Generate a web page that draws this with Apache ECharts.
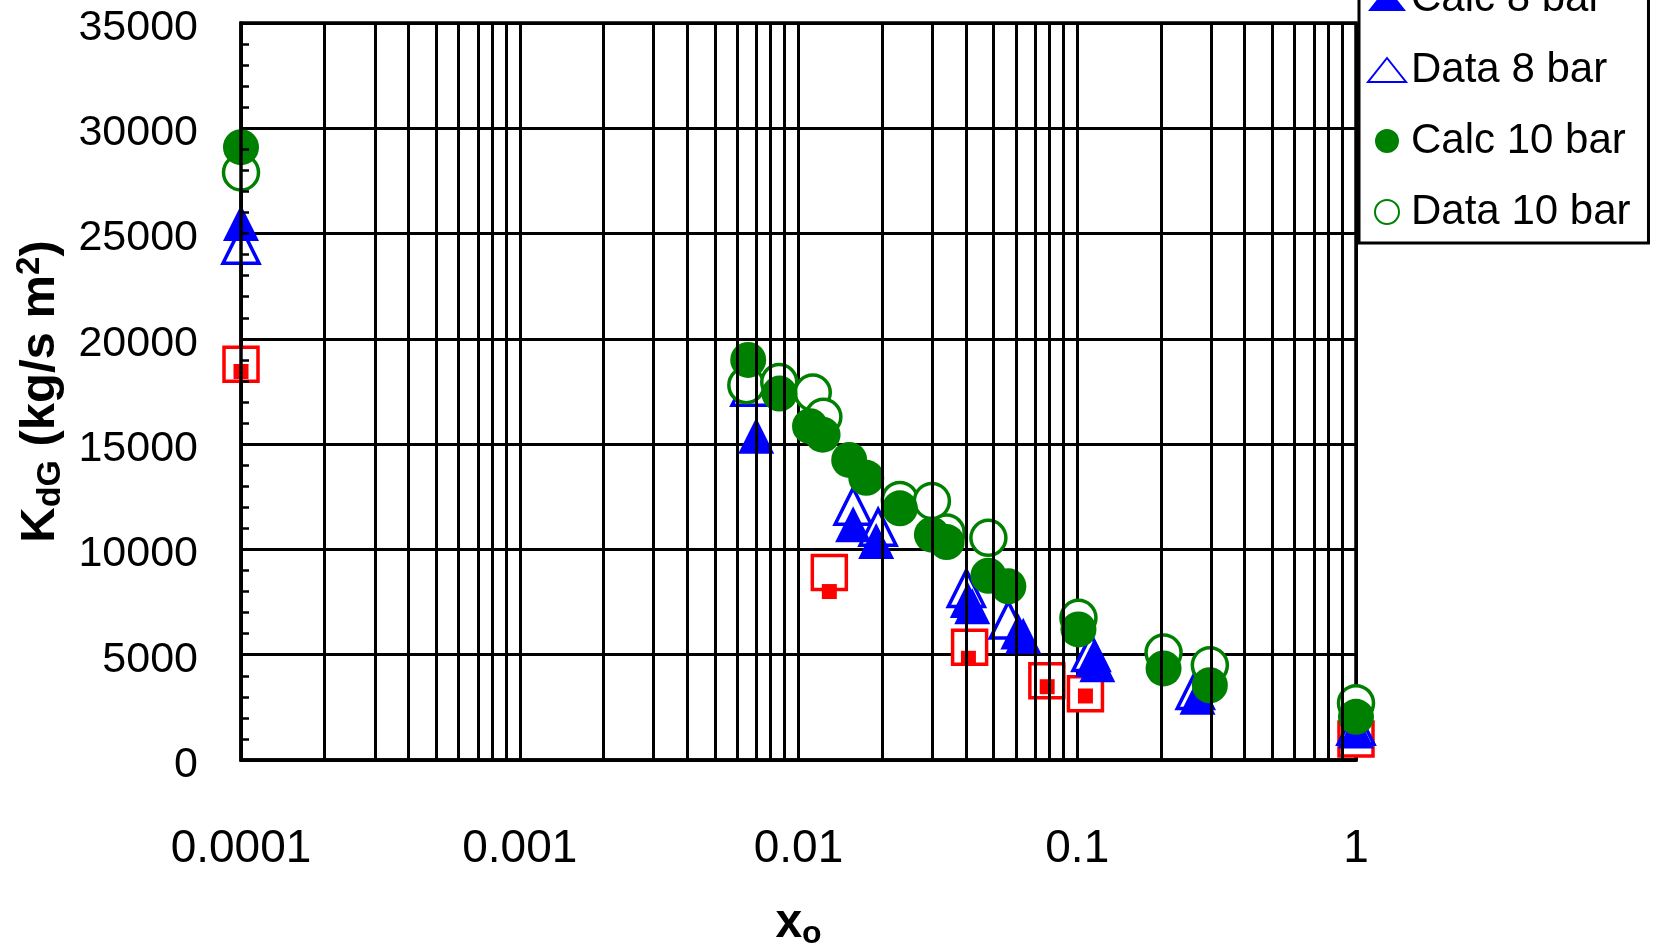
<!DOCTYPE html>
<html>
<head>
<meta charset="utf-8">
<script src="https://cdn.jsdelivr.net/npm/echarts@6/dist/echarts.min.js"></script>
<style>
html,body{margin:0;padding:0;background:#fff;}
#chart{width:1661px;height:950px;}
</style>
</head>
<body>
<div id="chart"></div>
<script>
// ---- data (x = x_o, y = K_dG) ----
const calc6 = [[0.0001,18450],[0.0129,8000],[0.0407,4830],[0.078,3480],[0.107,3040],[1.0,1300]];
const data6 = [[0.0001,18800],[0.0129,8900],[0.0411,5350],[0.0778,3760],[0.107,3150],[1.0,1000]];
const calc8 = [[0.0001,25500],[0.00705,15400],[0.0157,11200],[0.019,10400],[0.0405,7600],[0.042,7300],[0.0615,6100],[0.064,5900],[0.114,4800],[0.118,4550],[0.27,3000],[1.0,1400]];
const data8 = [[0.0001,24450],[0.0067,17700],[0.0157,12050],[0.0193,11050],[0.040,8150],[0.0566,6650],[0.112,5100],[0.265,3300],[1.0,1600]];
const calc10 = [[0.0001,29100],[0.0066,19000],[0.00855,17400],[0.011,15850],[0.0122,15450],[0.0152,14250],[0.0175,13400],[0.0231,11950],[0.0301,10700],[0.034,10350],[0.048,8750],[0.0566,8250],[0.101,6200],[0.204,4350],[0.299,3550],[1.0,2050]];
const data10 = [[0.0001,27900],[0.0065,17800],[0.00853,17950],[0.01125,17450],[0.01228,16300],[0.0231,12350],[0.0301,12300],[0.034,10800],[0.048,10550],[0.101,6750],[0.204,5100],[0.299,4500],[1.0,2700]];

const seriesNames = ['Calc 6 bar','Data 6 bar','Calc 8 bar','Data 8 bar','Calc 10 bar','Data 10 bar'];
const xTickLabels = ['0.0001','0.001','0.01','0.1','1'];
const decadeExponents = [-4,-3,-2,-1];
const minorFactors = [2,3,4,5,6,7,8,9];

const FONT = 'Liberation Sans, Arial, sans-serif';
// minor vertical gridlines (2..9 of each decade), placed on a hidden log10-space axis
const minorGrid = [];
decadeExponents.forEach(e => minorFactors.forEach(f => minorGrid.push({xAxis: e + Math.log10(f)})));

const chart = echarts.init(document.getElementById('chart'), null, {renderer:'canvas'});

const openStyle = (c, w) => ({color:'#ffffff', borderColor:c, borderWidth:w, opacity:1});
const fillStyle = c => ({color:c, opacity:1});

const option = {
  backgroundColor:'#ffffff',
  animation:false,
  grid:{left:241, right:305, top:23, bottom:190, show:true, borderColor:'#000', borderWidth:3.5,
        backgroundColor:'transparent', containLabel:false, outerBoundsMode:'none'},
  legend:{
    orient:'vertical', left:1359, top:-175,
    padding:[7,18,6,8],
    itemWidth:38, itemHeight:24, itemGap:21,
    borderColor:'#000', borderWidth:3, backgroundColor:'#fff',
    textStyle:{fontFamily:FONT, fontSize:42, color:'#000', lineHeight:50},
    data:seriesNames
  },
  xAxis:[{
    type:'log', logBase:10, min:0.0001, max:1,
    axisLine:{show:true, lineStyle:{color:'#000', width:3.5}},
    axisTick:{show:false},
    splitLine:{show:true, lineStyle:{color:'#000', width:3}},
    minorSplitLine:{show:false},
    axisLabel:{fontFamily:FONT, fontSize:46, color:'#000', margin:66,
      formatter:v => xTickLabels[Math.round(Math.log10(v)) + 4]},
    name:'{a|x}{s|o}', nameLocation:'middle', nameGap:138,
    nameTextStyle:{rich:{
      a:{fontFamily:FONT, fontSize:48, fontWeight:'bold', color:'#000', lineHeight:52},
      s:{fontFamily:FONT, fontSize:32, fontWeight:'bold', color:'#000', lineHeight:30, verticalAlign:'bottom'}
    }}
  },{
    type:'value', min:-4, max:0, show:false
  }],
  yAxis:[{
    type:'value', min:0, max:35000, interval:5000,
    axisLine:{show:false},
    axisTick:{show:false},
    splitLine:{show:true, lineStyle:{color:'#000', width:3}},
    axisLabel:{margin:43, formatter:v => '{v|' + v + '}',
      rich:{v:{fontFamily:FONT, fontSize:43, color:'#000', padding:[10,0,0,0]}}},
    name:'{a|K}{s|dG}{a| (kg/s m}{p|2}{a|)}', nameLocation:'middle', nameGap:173, nameRotate:90,
    nameTextStyle:{rich:{
      a:{fontFamily:FONT, fontSize:49, fontWeight:'bold', color:'#000', lineHeight:54},
      s:{fontFamily:FONT, fontSize:34, fontWeight:'bold', color:'#000', lineHeight:30, verticalAlign:'bottom'},
      p:{fontFamily:FONT, fontSize:33, fontWeight:'bold', color:'#000', lineHeight:32, verticalAlign:'top'}
    }}
  },{
    type:'value', min:0, max:35000, interval:5000, position:'left', z:10,
    axisLine:{show:true, lineStyle:{color:'#000', width:3.5}},
    axisTick:{show:true, inside:true, length:8, lineStyle:{color:'#000', width:2.5}},
    minorTick:{show:true, splitNumber:5, length:8, lineStyle:{color:'#000', width:2.5}},
    splitLine:{show:false},
    axisLabel:{show:false}
  }],
  series:[
    {type:'line', xAxisIndex:1, yAxisIndex:0, data:[], silent:true,
     markLine:{silent:true, symbol:'none', label:{show:false}, animation:false,
       lineStyle:{color:'#000', width:3, type:'solid', opacity:1}, emphasis:{disabled:true}, data:minorGrid}},
    {name:'Data 6 bar', type:'scatter', data:data6, symbol:'rect', symbolSize:34, clip:false,
     itemStyle:openStyle('#ff0000',3.5)},
    {name:'Calc 6 bar', type:'scatter', data:calc6, symbol:'rect', symbolSize:15, clip:false,
     itemStyle:fillStyle('#ff0000')},
    {name:'Data 8 bar', type:'scatter', data:data8, symbol:'triangle', symbolSize:36, clip:false,
     itemStyle:openStyle('#0000ff',3.5)},
    {name:'Calc 8 bar', type:'scatter', data:calc8, symbol:'triangle', symbolSize:36, clip:false,
     itemStyle:fillStyle('#0000ff')},
    {name:'Data 10 bar', type:'scatter', data:data10, symbol:'circle', symbolSize:35, clip:false,
     itemStyle:openStyle('#008000',3.5)},
    {name:'Calc 10 bar', type:'scatter', data:calc10, symbol:'circle', symbolSize:36, clip:false,
     itemStyle:fillStyle('#008000')}
  ]
};
chart.setOption(option);
</script>
</body>
</html>
